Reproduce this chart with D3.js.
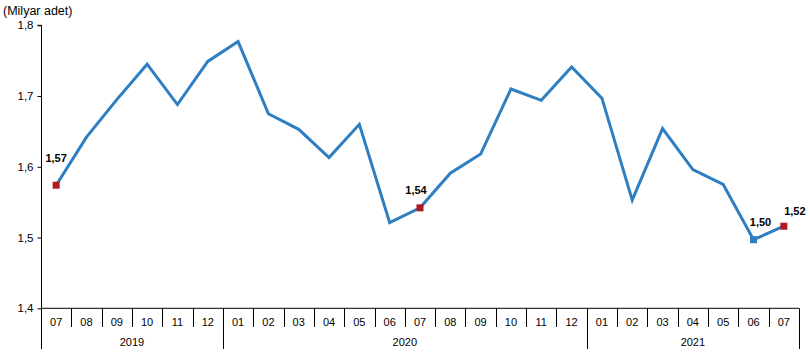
<!DOCTYPE html>
<html><head><meta charset="utf-8">
<script src="https://cdn.jsdelivr.net/npm/d3@7"></script>
<style>
body{margin:0;background:#fff;}
svg{display:block;font-family:"Liberation Sans",Arial,sans-serif;}
</style></head>
<body><svg id="c" width="810" height="357"></svg>
<script>
const months = ["07","08","09","10","11","12","01","02","03","04","05","06","07","08","09","10","11","12","01","02","03","04","05","06","07"];
const years = ["2019","2020","2021"];
const yearSpans = [6, 12, 7];
const values = [1.574,1.642,1.695,1.745,1.688,1.749,1.777,1.675,1.653,1.613,1.660,1.521,1.542,1.591,1.618,1.710,1.694,1.741,1.697,1.553,1.654,1.596,1.575,1.497,1.516];
const yTicks = [1.4,1.5,1.6,1.7,1.8];
const labelIdx = [0, 12, 23, 24];
const labelText = ["1,57","1,54","1,50","1,52"];
const markerIdx = [0, 12, 23, 24];
const markerKind = ["red","red","blue","red"];

const svg = d3.select("#c");
const lineColor = "#2E7EC2", redColor = "#B2191E";
const x0 = 41, x1 = 799, yTop = 25.3, yBot = 308.3;

const x = d3.scaleBand().domain(d3.range(months.length)).range([x0, x1]);
const y = d3.scaleLinear().domain([1.4, 1.8]).range([yBot, yTop]);

// title
svg.append("text").attr("x", 3).attr("y", 15).attr("font-size", 12.5).attr("fill", "#000").text("(Milyar adet)");

// y axis
const yAxis = d3.axisLeft(y).tickValues(yTicks).tickSize(4).tickPadding(4)
  .tickFormat(d => d3.format(".1f")(d).replace(".", ","));
const gy = svg.append("g").attr("transform", `translate(${x0 + 0.5},0)`).call(yAxis);
gy.select(".domain").attr("stroke", "#000").attr("d", `M-4,${y(1.8)}H0V${y(1.4)}`);
gy.selectAll(".tick line").attr("stroke", "#000");
gy.selectAll(".tick text").attr("font-size", 11.5).attr("fill", "#000").attr("font-family", "Liberation Sans, Arial, sans-serif");

// x axis baseline
svg.append("line").attr("x1", x0).attr("x2", x1).attr("y1", yBot).attr("y2", yBot).attr("stroke", "#000");

// month separators
const boundaries = d3.range(months.length + 1).map(i => i < months.length ? x(i) : x1);
let cum = 0; const yearBounds = [0];
yearSpans.forEach(s => { cum += s; yearBounds.push(cum); });
boundaries.forEach((bx, i) => {
  const isYear = yearBounds.includes(i);
  svg.append("line").attr("x1", Math.round(bx) + 0.5).attr("x2", Math.round(bx) + 0.5)
    .attr("y1", yBot).attr("y2", isYear ? 349 : 327).attr("stroke", "#000");
});
svg.append("g").selectAll("text").data(months).join("text")
  .attr("x", (d, i) => x(i) + x.bandwidth() / 2).attr("y", 325.5)
  .attr("text-anchor", "middle").attr("font-size", 11).attr("fill", "#000").text(d => d);
svg.append("g").selectAll("text").data(years).join("text")
  .attr("x", (d, i) => (boundaries[yearBounds[i]] + boundaries[yearBounds[i + 1]]) / 2).attr("y", 346)
  .attr("text-anchor", "middle").attr("font-size", 11).attr("fill", "#000").text(d => d);

// line
const line = d3.line().x((d, i) => x(i) + x.bandwidth() / 2).y(d => y(d));
svg.append("path").datum(values).attr("d", line).attr("fill", "none")
  .attr("stroke", lineColor).attr("stroke-width", 3).attr("stroke-linejoin", "miter");

// markers
markerIdx.forEach((idx, k) => {
  const cx = x(idx) + x.bandwidth() / 2, cy = y(values[idx]);
  svg.append("rect").attr("x", cx - 3.5).attr("y", cy - 3.5).attr("width", 7).attr("height", 7)
    .attr("fill", markerKind[k] === "red" ? redColor : lineColor);
});

// labels
const labelOffsets = [[0, -23], [-4, -14], [7, -14], [11, -11]];
labelIdx.forEach((idx, k) => {
  const cx = x(idx) + x.bandwidth() / 2, cy = y(values[idx]);
  svg.append("text").attr("x", cx + labelOffsets[k][0]).attr("y", cy + labelOffsets[k][1])
    .attr("text-anchor", "middle").attr("font-size", 11).attr("font-weight", "bold").attr("fill", "#000")
    .text(labelText[k]);
});
</script></body></html>
